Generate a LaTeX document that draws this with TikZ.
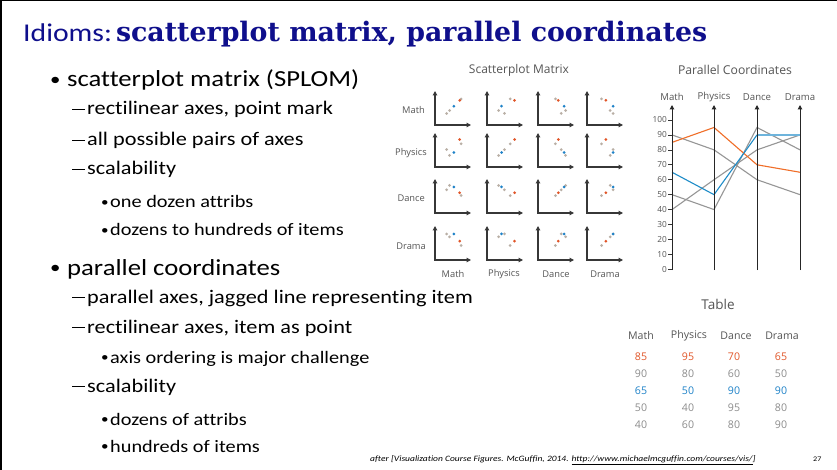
\documentclass[tikz,border=0pt]{standalone}
\usepackage{fontspec}
\setmainfont{Carlito}[FakeStretch=1.16, Ligatures=NoCommon]
\newfontfamily\slab{DejaVu Serif}
\newfontfamily\lbl{Open Sans}
\usetikzlibrary{arrows.meta}
\definecolor{titleblue}{RGB}{15,15,140}
\definecolor{dotorange}{RGB}{225,85,40}
\definecolor{dotblue}{RGB}{30,130,200}
\definecolor{dotgray}{RGB}{185,175,165}
\definecolor{axisgray}{RGB}{55,55,55}
\definecolor{lblgray}{RGB}{85,85,85}
\definecolor{pcgray}{RGB}{150,150,150}
\definecolor{pcorange}{RGB}{240,110,40}
\definecolor{pcblue}{RGB}{30,140,200}
\definecolor{pclightblue}{RGB}{110,180,220}
\definecolor{tabgray}{RGB}{140,140,140}
\def\py#1{269.3-1.493*#1}
\newcommand\bigdot{\makebox[17pt][l]{\raisebox{1.5pt}{\fontsize{18}{18}\selectfont\textbullet}}}
\newcommand\smalldot{\makebox[9pt][l]{\raisebox{1.5pt}{\fontsize{13}{13}\selectfont\textbullet}}}
\newcommand\dashmark{\makebox[15pt][l]{\rule[0.27em]{12.5pt}{1.3pt}}}
\tikzset{
  txt/.style={anchor=base west, inner sep=0pt},
  lone/.style={txt, font=\fontsize{23}{23}\selectfont},
  ltwo/.style={txt, font=\fontsize{19.2}{19.2}\selectfont},
  lthree/.style={txt, font=\fontsize{17.5}{17.5}\selectfont},
  splbl/.style={inner sep=0pt, text=lblgray, font=\lbl\fontsize{9.3}{9.3}\selectfont},
  pclbl/.style={inner sep=0pt, text=lblgray, font=\lbl\fontsize{9.6}{9.6}\selectfont},
  ticklbl/.style={inner sep=0pt, anchor=east, text=lblgray, font=\lbl\fontsize{8.3}{8.3}\selectfont},
  tab/.style={inner sep=0pt, font=\lbl\fontsize{10.6}{10.6}\selectfont},
  spaxis/.style={{Triangle[length=4.5pt,width=4.5pt]}-{Triangle[length=4.5pt,width=4.5pt]}, line width=1.3pt, axisgray},
  pcaxis/.style={-{Triangle[length=4.5pt,width=4.5pt]}, line width=1pt, black!85},
  pcline/.style={line width=1.1pt},
}
\begin{document}
\begin{tikzpicture}[x=1pt,y=-1pt]
\useasboundingbox (0,0) rectangle (837,470);
\fill[white] (0,0) rectangle (837,470);
\draw[line width=1.5pt] (0,0.75) -- (837,0.75);
\draw[line width=1.5pt] (0.75,0) -- (0.75,470);
% title
\node[txt, text=titleblue] (title) at (23,42) {\fontsize{25.6}{25.6}\selectfont Idioms:\hspace{4pt}{\slab\bfseries\fontsize{26.8}{26.8}\selectfont scatterplot matrix, parallel coordinates}};
% bullets
\node[lone] (b1) at (50,87) {\bigdot scatterplot matrix (SPLOM)};
\node[ltwo] (b2) at (72,115) {\dashmark rectilinear axes, point mark};
\node[ltwo] (b3) at (72,146) {\dashmark all possible pairs of axes};
\node[ltwo] (b4) at (72,175) {\dashmark scalability};
\node[lthree] (b5) at (101,208) {\smalldot one dozen attribs};
\node[lthree] (b6) at (101,236) {\smalldot dozens to hundreds of items};
\node[lone] (b7) at (50,275) {\bigdot parallel coordinates};
\node[ltwo] (b8) at (72,303) {\dashmark parallel axes, jagged line representing item};
\node[ltwo] (b9) at (72,333) {\dashmark rectilinear axes, item as point};
\node[lthree] (b10) at (101,363) {\smalldot axis ordering is major challenge};
\node[ltwo] (b11) at (72,392) {\dashmark scalability};
\node[lthree] (b12) at (101,425) {\smalldot dozens of attribs};
\node[lthree] (b13) at (101,452) {\smalldot hundreds of items};
% scatterplot matrix
\node[inner sep=0pt, text=lblgray, font=\lbl\fontsize{12}{12}\selectfont] (sptitle) at (519,70) {Scatterplot Matrix};
\foreach \r [count=\ri from 0] in {125,167,213,260} {
  \foreach \c [count=\ci from 0] in {435,487,538,587} {
    \draw[spaxis] (\c,\r-34) -- (\c,\r) -- (\c+36,\r);
    \foreach \col/\vals in {dotgray/{90,80,60,50},dotgray/{50,40,95,80},dotgray/{40,60,80,90},dotorange/{85,95,70,65},dotblue/{65,50,90,90}} {
      \pgfmathsetmacro\vx{{\vals}[\ci]}
      \pgfmathsetmacro\vy{{\vals}[\ri]}
      \fill[\col] ({\c+0.29*\vx},{\r-0.29*\vy}) circle (1.5pt);
    }
  }
}
\node[splbl, anchor=east] (rm) at (425,110) {Math};
\node[splbl, anchor=east] (rp) at (427,153) {Physics};
\node[splbl, anchor=east] (rd) at (425,198) {Dance};
\node[splbl, anchor=east] (rr) at (426,246) {Drama};
\node[splbl] (cm) at (453,274) {Math};
\node[splbl] (cp) at (504,274) {Physics};
\node[splbl] (cd) at (556,274) {Dance};
\node[splbl] (cr) at (605,274) {Drama};
% parallel coordinates
\node[inner sep=0pt, text=lblgray, font=\lbl\fontsize{12.2}{12.2}\selectfont] (pctitle) at (735,70) {Parallel Coordinates};
\foreach \ax/\nm in {672/Math,714/Physics,757/Dance,800/Drama} {
  \node[pclbl] (h\nm) at (\ax,97) {\nm};
}
\foreach \v in {0,10,...,100} {
  \draw[black!80, line width=0.6pt] (668,{\py{\v}}) -- (672,{\py{\v}});
  \node[ticklbl] at (667,{\py{\v}}) {\v};
}
\draw[pcline, pcgray] (672,{\py{90}}) -- (714,{\py{80}}) -- (757,{\py{60}}) -- (800,{\py{50}});
\draw[pcline, pcgray] (672,{\py{50}}) -- (714,{\py{40}}) -- (757,{\py{95}}) -- (800,{\py{80}});
\draw[pcline, pcgray] (672,{\py{40}}) -- (714,{\py{60}}) -- (757,{\py{80}}) -- (800,{\py{90}});
\draw[pcline, pcorange] (672,{\py{85}}) -- (714,{\py{95}}) -- (757,{\py{70}}) -- (800,{\py{65}});
\draw[pcline, pcblue] (672,{\py{65}}) -- (714,{\py{50}}) -- (757,{\py{90}});
\draw[line width=2pt, pclightblue] (757,{\py{90}}) -- (800,{\py{90}});
\foreach \ax in {672,714,757,800} {
  \draw[pcaxis] (\ax,270) -- (\ax,105);
}
% table
\node[inner sep=0pt, text=lblgray, font=\lbl\fontsize{13.5}{13.5}\selectfont] (tabtitle) at (718,304) {Table};
\foreach \x/\nm in {641/Math,689/Physics,736/Dance,782/Drama} {
  \node[tab, text=lblgray] (t\nm) at (\x,336) {\nm};
}
\foreach \y/\col/\a/\b/\cc/\d in {357/dotorange/85/95/70/65,374/tabgray/90/80/60/50,391/dotblue/65/50/90/90,408/tabgray/50/40/95/80,425/tabgray/40/60/80/90} {
  \node[tab, text=\col] at (641,\y) {\a};
  \node[tab, text=\col] at (688,\y) {\b};
  \node[tab, text=\col] at (734,\y) {\cc};
  \node[tab, text=\col] at (781,\y) {\d};
}
% footer
\node[txt, font=\itshape\fontsize{8.2}{8.2}\selectfont] (foot) at (370,461) {after [Visualization Course Figures. McGuffin, 2014. \underline{http://www.michaelmcguffin.com/courses/vis/}]};
\node[txt, font=\fontsize{7}{7}\selectfont] (pg) at (813,461) {27};
\end{tikzpicture}
\end{document}
